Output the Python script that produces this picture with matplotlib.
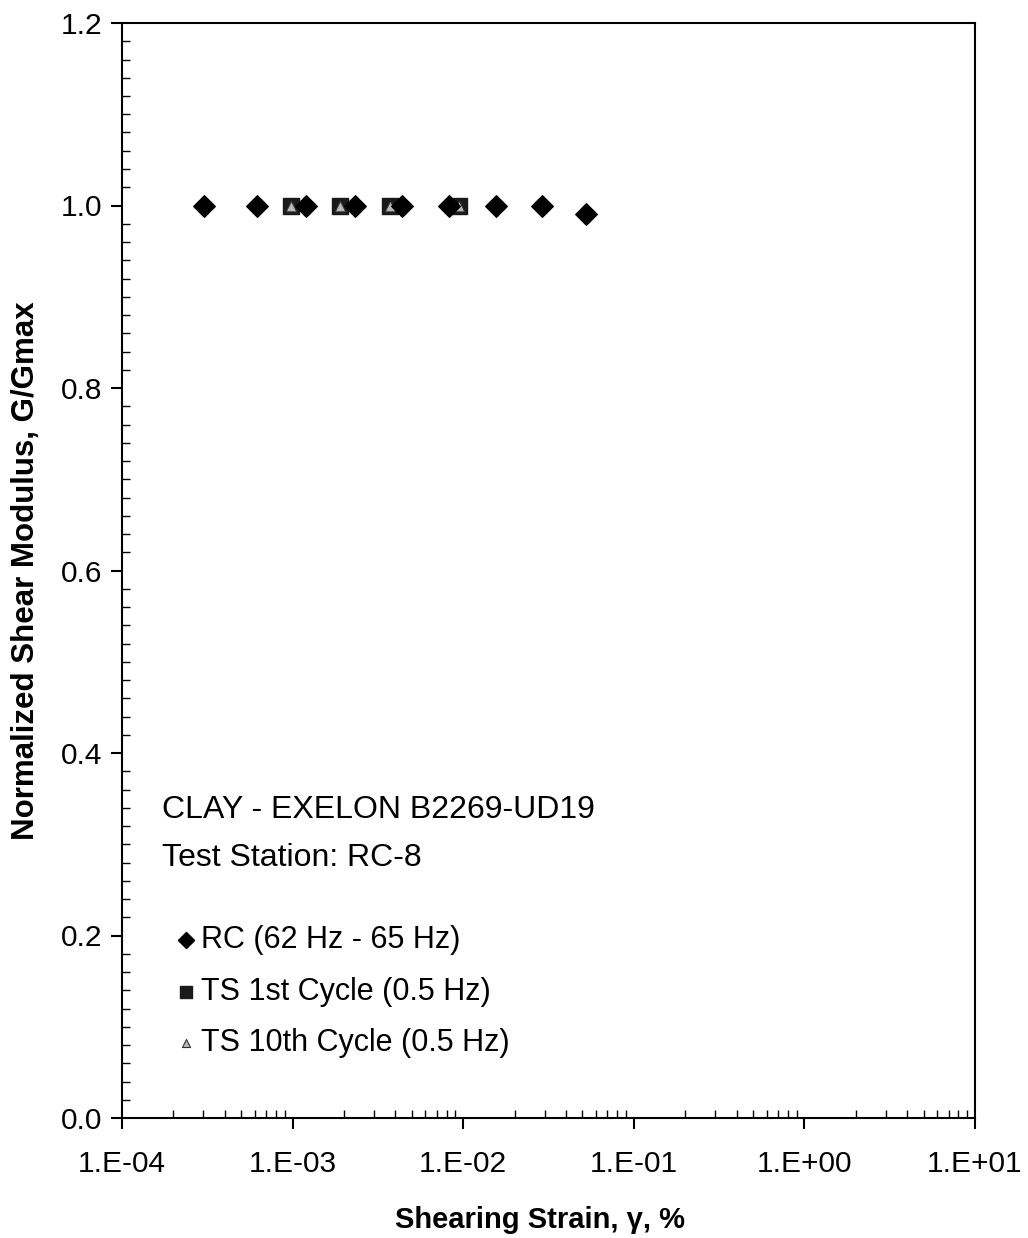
import matplotlib
matplotlib.use("Agg")
import matplotlib.pyplot as plt
import numpy as np
from matplotlib.ticker import FixedLocator, MultipleLocator, LogLocator, NullFormatter

plt.rcParams['font.family'] = ['Liberation Sans', 'DejaVu Sans']

# Data
rc_strain = [3.03e-4, 6.2e-4, 1.2e-3, 2.32e-3, 4.4e-3, 8.3e-3, 1.55e-2, 2.9e-2, 5.25e-2]
rc_g = [1.0, 1.0, 1.0, 1.0, 1.0, 1.0, 1.0, 1.0, 0.991]
ts1_strain = [9.8e-4, 1.9e-3, 3.72e-3, 9.4e-3]
ts1_g = [1.0, 1.0, 1.0, 1.0]
ts10_strain = [9.8e-4, 1.9e-3, 3.72e-3, 9.4e-3]
ts10_g = [1.0, 1.0, 1.0, 1.0]
x_ticks = [1e-4, 1e-3, 1e-2, 1e-1, 1e0, 1e1]
x_tick_labels = ["1.E-04", "1.E-03", "1.E-02", "1.E-01", "1.E+00", "1.E+01"]
y_ticks = [0.0, 0.2, 0.4, 0.6, 0.8, 1.0, 1.2]
y_tick_labels = ["0.0", "0.2", "0.4", "0.6", "0.8", "1.0", "1.2"]

fig = plt.figure(figsize=(10.28, 12.38), dpi=100)
ax = fig.add_axes([122/1028, 1 - 1118/1238, (975-122)/1028, (1118-23)/1238])

ax.set_xscale('log')
ax.set_xlim(1e-4, 1e1)
ax.set_ylim(0, 1.2)

ax.scatter(ts1_strain, ts1_g, marker='s', s=130, color='#1a1a1a', zorder=3,
           label='TS 1st Cycle (0.5 Hz)')
ax.scatter(ts10_strain, ts10_g, marker='^', s=60, color='#b8b8b8', edgecolors='#303030',
           linewidths=0.8, zorder=4, label='TS 10th Cycle (0.5 Hz)')
ax.scatter(rc_strain, rc_g, marker='D', s=120, color='black', zorder=5,
           label='RC (62 Hz - 65 Hz)')

ax.xaxis.set_major_locator(FixedLocator(x_ticks))
ax.set_xticklabels(x_tick_labels)
ax.xaxis.set_minor_locator(LogLocator(base=10, subs=np.arange(2, 10)))
ax.xaxis.set_minor_formatter(NullFormatter())
ax.yaxis.set_major_locator(FixedLocator(y_ticks))
ax.set_yticklabels(y_tick_labels)
ax.yaxis.set_minor_locator(MultipleLocator(0.02))

ax.tick_params(axis='both', which='major', direction='out', length=8, width=1.5,
               labelsize=21.5)
ax.tick_params(axis='x', which='major', pad=15)
ax.tick_params(axis='y', which='major', pad=6)
ax.tick_params(axis='both', which='minor', direction='in', length=6, width=1.0)
ax.tick_params(top=False, right=False, which='both')
for sp in ax.spines.values():
    sp.set_linewidth(1.5)

ax.set_xlabel("Shearing Strain, γ, %", fontsize=21, fontweight='bold')
ax.xaxis.set_label_coords(0.49, -0.08)
ax.set_ylabel("Normalized Shear Modulus, G/Gmax", fontsize=22.5, fontweight='bold', labelpad=14)

ax.text(162/1028, 1 - 810/1238, "CLAY - EXELON B2269-UD19", transform=fig.transFigure,
        fontsize=23, va='center', ha='left')
ax.text(162/1028, 1 - 858/1238, "Test Station: RC-8", transform=fig.transFigure,
        fontsize=23, va='center', ha='left')

handles, labels = ax.get_legend_handles_labels()
order = [2, 0, 1]
leg = ax.legend([handles[i] for i in order], [labels[i] for i in order],
                loc='upper left', bbox_to_anchor=(155/1028, 1 - 910/1238),
                bbox_transform=fig.transFigure, frameon=False, fontsize=22,
                handletextpad=0.0, handlelength=1.0, labelspacing=0.7,
                markerscale=0.75, borderpad=0)

fig.savefig("out.png", dpi=100)
